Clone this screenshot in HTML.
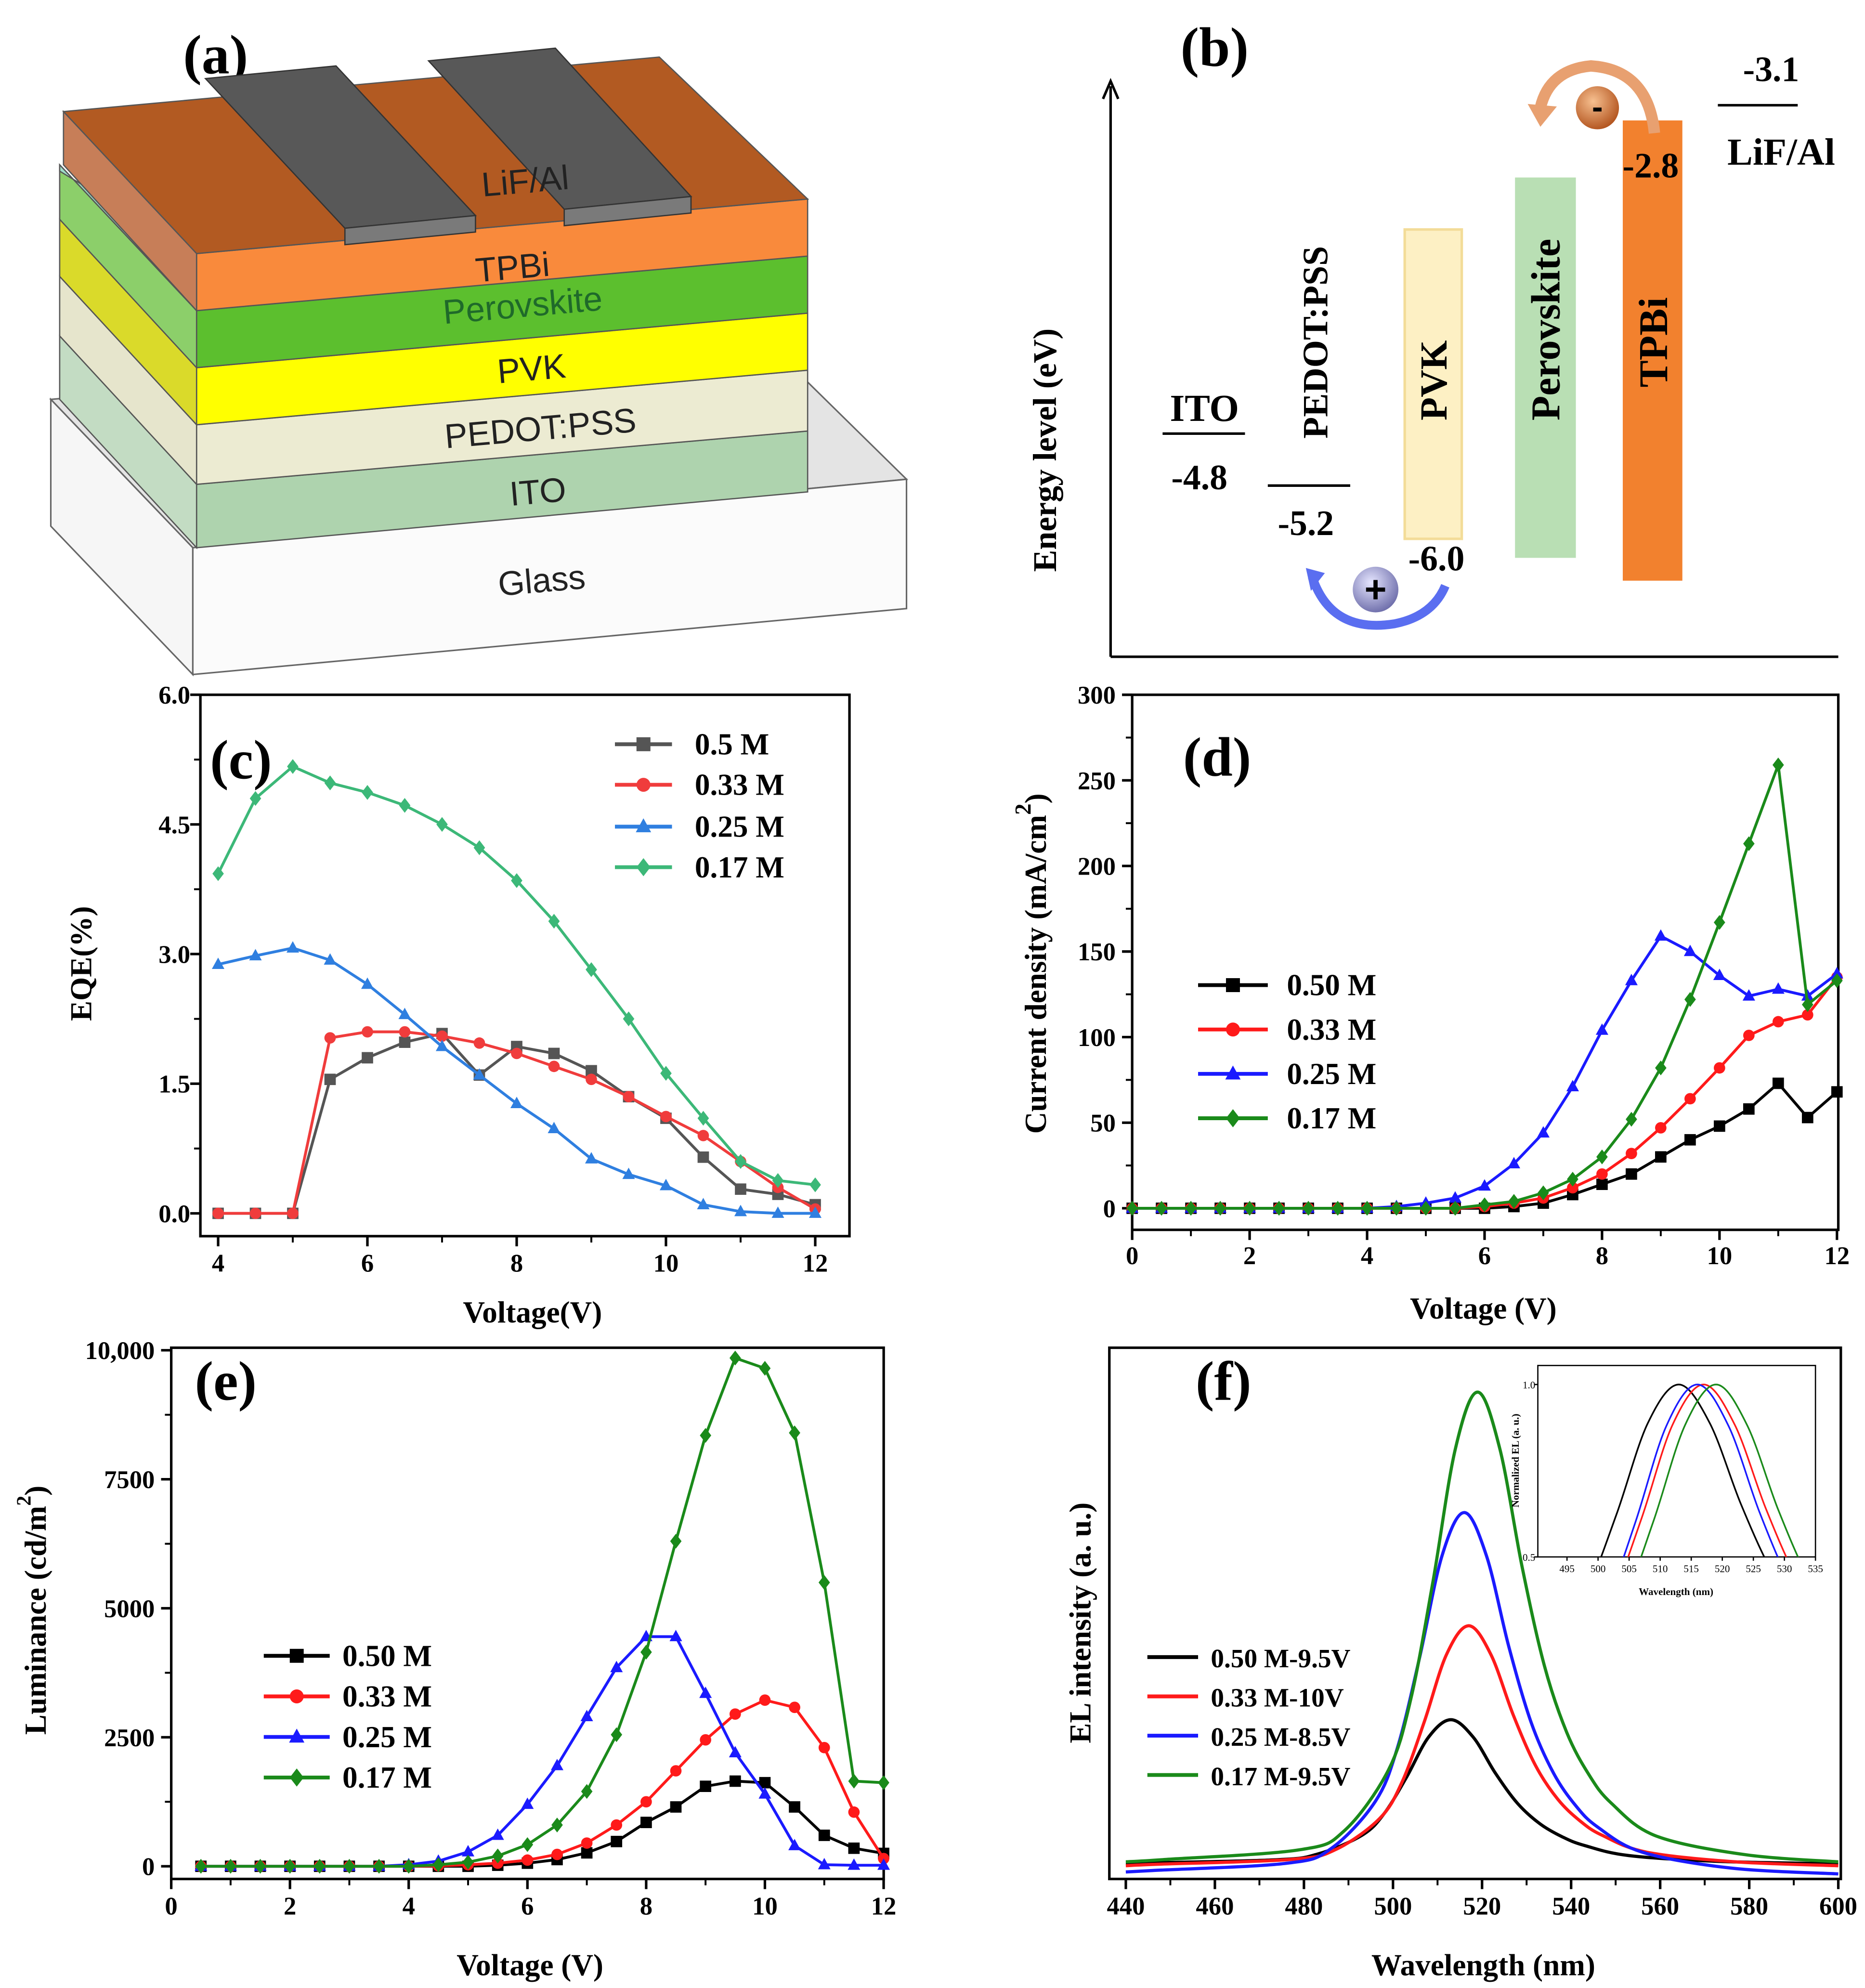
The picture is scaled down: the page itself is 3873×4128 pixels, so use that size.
<!DOCTYPE html>
<html><head><meta charset="utf-8"><title>Perovskite LED figure</title>
<style>
html,body{margin:0;padding:0;background:#fff;}
svg{display:block;font-family:"Liberation Serif",serif;}
.sans{font-family:"Liberation Sans",sans-serif;}
.b{font-weight:bold;}
</style></head>
<body>
<svg id="chart" xmlns="http://www.w3.org/2000/svg" width="3873" height="4128" viewBox="0 0 1471 1568">
<rect x="0" y="0" width="1471" height="1568" fill="#fff"/>
<!-- ===== Panel (a) device structure ===== -->
<g>
  <text x="170" y="58" font-size="44" class="b" text-anchor="middle">(a)</text>
  <!-- glass box -->
  <polygon points="40,315 600,265 715,378 152,432" fill="#e4e4e4" stroke="#666" stroke-width="1.2"/>
  <polygon points="152,432 715,378 715,480 152,532" fill="#fbfbfb" stroke="#666" stroke-width="1.2"/>
  <polygon points="40,315 152,432 152,532 40,415" fill="#f6f6f6" stroke="#666" stroke-width="1.2"/>
  <!-- ITO -->
  <polygon points="155,382 637,340 637,388 155,432" fill="#aed3ae" stroke="#555" stroke-width="1"/>
  <polygon points="47,265 155,382 155,432 47,315" fill="#c3dcc3" stroke="#555" stroke-width="1"/>
  <!-- PEDOT -->
  <polygon points="155,335 637,292 637,340 155,382" fill="#ecebd2" stroke="#555" stroke-width="1"/>
  <polygon points="47,218 155,335 155,382 47,265" fill="#e6e5cc" stroke="#555" stroke-width="1"/>
  <!-- PVK -->
  <polygon points="155,290 637,247 637,292 155,335" fill="#ffff00" stroke="#555" stroke-width="1"/>
  <polygon points="47,173 155,290 155,335 47,218" fill="#dada2a" stroke="#555" stroke-width="1"/>
  <!-- Perovskite -->
  <polygon points="155,245 637,202 637,247 155,290" fill="#5cbf2e" stroke="#555" stroke-width="1"/>
  <polygon points="47,130 155,245 155,290 47,173" fill="#8ccf6a" stroke="#555" stroke-width="1"/>
  <!-- TPBi -->
  <polygon points="155,200 637,157 637,202 155,245" fill="#f98a3c" stroke="#555" stroke-width="1"/>
  <polygon points="47,135 155,200 155,245 47,130" fill="#9edcc8" stroke="#555" stroke-width="1"/>
  <!-- LiF/Al top -->
  <polygon points="50,88 520,45 637,157 155,200" fill="#b25a22" stroke="#555" stroke-width="1"/>
  <polygon points="50,88 155,200 155,245 50,130" fill="#c77e58" stroke="#555" stroke-width="1"/>
  <!-- electrodes -->
  <polygon points="162,62 265,52 375,170 272,180" fill="#585858" stroke="#333" stroke-width="1"/>
  <polygon points="272,180 375,170 375,183 272,193" fill="#7a7a7a" stroke="#333" stroke-width="1"/>
  <polygon points="338,48 438,38 545,155 445,165" fill="#585858" stroke="#333" stroke-width="1"/>
  <polygon points="445,165 545,155 545,168 445,178" fill="#7a7a7a" stroke="#333" stroke-width="1"/>
  <g class="sans" font-size="27" text-anchor="middle">
    <text x="415" y="152" transform="rotate(-5 415 152)" fill="#222">LiF/Al</text>
    <text x="405" y="220" transform="rotate(-5 405 220)" fill="#222">TPBi</text>
    <text x="413" y="250" transform="rotate(-5 413 250)" fill="#1f6a2a">Perovskite</text>
    <text x="420" y="300" transform="rotate(-5 420 300)" fill="#222">PVK</text>
    <text x="427" y="347" transform="rotate(-5 427 347)" fill="#222">PEDOT:PSS</text>
    <text x="425" y="397" transform="rotate(-5 425 397)" fill="#222">ITO</text>
    <text x="428" y="467" transform="rotate(-5 428 467)" fill="#222">Glass</text>
  </g>
</g>
<!-- ===== Panel (b) energy levels ===== -->
<g class="b">
  <defs>
    <radialGradient id="hole" cx="0.4" cy="0.35" r="0.7"><stop offset="0" stop-color="#e6e6ff"/><stop offset="1" stop-color="#6a6aa8"/></radialGradient>
    <radialGradient id="elec" cx="0.4" cy="0.35" r="0.7"><stop offset="0" stop-color="#f7c090"/><stop offset="1" stop-color="#b0501a"/></radialGradient>
  </defs>
  <text x="958" y="52" font-size="44" text-anchor="middle">(b)</text>
  <line x1="876" y1="518" x2="876" y2="68" stroke="#000" stroke-width="2"/>
  <polyline points="870,78 876,64 882,78" fill="none" stroke="#000" stroke-width="2"/>
  <line x1="876" y1="518" x2="1450" y2="518" stroke="#000" stroke-width="2"/>
  <text x="0" y="0" font-size="26" text-anchor="middle" transform="translate(833 355) rotate(-90)">Energy level (eV)</text>
  <line x1="917" y1="342" x2="982" y2="342" stroke="#000" stroke-width="2"/>
  <text x="950" y="332" font-size="30" text-anchor="middle">ITO</text>
  <text x="946" y="386" font-size="28" text-anchor="middle">-4.8</text>
  <line x1="1000" y1="383" x2="1065" y2="383" stroke="#000" stroke-width="2"/>
  <text x="0" y="0" font-size="28" text-anchor="middle" transform="translate(1047 270) rotate(-90)">PEDOT:PSS</text>
  <text x="1030" y="422" font-size="28" text-anchor="middle">-5.2</text>
  <rect x="1108" y="181" width="45" height="244" fill="#fdf0c4" stroke="#f3dc98" stroke-width="2"/>
  <text x="0" y="0" font-size="30" text-anchor="middle" transform="translate(1141 300) rotate(-90)">PVK</text>
  <rect x="1195" y="140" width="48" height="300" fill="#b9dfb4"/>
  <text x="0" y="0" font-size="32" text-anchor="middle" transform="translate(1230 260) rotate(-90)">Perovskite</text>
  <rect x="1280" y="95" width="47" height="363" fill="#f2812e"/>
  <text x="0" y="0" font-size="32" text-anchor="middle" transform="translate(1315 270) rotate(-90)">TPBi</text>
  <text x="1302" y="140" font-size="28" text-anchor="middle">-2.8</text>
  <line x1="1355" y1="83" x2="1418" y2="83" stroke="#000" stroke-width="2"/>
  <text x="1397" y="64" font-size="28" text-anchor="middle">-3.1</text>
  <text x="1405" y="130" font-size="30" text-anchor="middle">LiF/Al</text>
  <path d="M1035,455 Q1050,500 1100,492 Q1130,486 1140,462" fill="none" stroke="#5a6ef0" stroke-width="7"/>
  <polygon points="1030,448 1045,452 1034,466" fill="#5a6ef0"/>
  <circle cx="1085" cy="465" r="18" fill="url(#hole)"/>
  <text x="1085" y="475" font-size="30" text-anchor="middle" class="sans">+</text>
  <text x="1133" y="450" font-size="28" text-anchor="middle">-6.0</text>
  <path d="M1305,105 Q1300,55 1255,52 Q1222,55 1215,85" fill="none" stroke="#e8a070" stroke-width="9"/>
  <polygon points="1205,82 1228,84 1215,100" fill="#e8a070"/>
  <circle cx="1260" cy="85" r="17" fill="url(#elec)"/>
  <text x="1260" y="93" font-size="26" text-anchor="middle" class="sans">-</text>
</g>
<g id="plots"></g>
</svg>
<script>
// ---------- data ----------
const eqeVolt = [4,4.5,5,5.5,6,6.5,7,7.5,8,8.5,9,9.5,10,10.5,11,11.5,12];
const eqe050 = [0,0,0,1.55,1.8,1.98,2.08,1.6,1.93,1.85,1.65,1.35,1.1,0.65,0.28,0.22,0.1];
const eqe033 = [0,0,0,2.03,2.1,2.1,2.05,1.97,1.85,1.7,1.55,1.35,1.12,0.9,0.6,0.3,0.05];
const eqe025 = [2.88,2.98,3.07,2.93,2.65,2.3,1.93,1.6,1.27,0.98,0.63,0.45,0.32,0.1,0.02,0,0];
const eqe017 = [3.93,4.8,5.17,4.98,4.87,4.72,4.5,4.23,3.85,3.38,2.82,2.25,1.62,1.1,0.6,0.38,0.33];
const eqeYTicks = [0,1.5,3.0,4.5,6.0];
const eqeYLabels = ['0.0','1.5','3.0','4.5','6.0'];
const eqeXTicks = [4,6,8,10,12];

const jVolt = [0,0.5,1,1.5,2,2.5,3,3.5,4,4.5,5,5.5,6,6.5,7,7.5,8,8.5,9,9.5,10,10.5,11,11.5,12];
const j050 = [0,0,0,0,0,0,0,0,0,0,0,0,0,1,3,8,14,20,30,40,48,58,73,53,68];
const j033 = [0,0,0,0,0,0,0,0,0,0,0,0,1,3,6,12,20,32,47,64,82,101,109,113,135];
const j025 = [0,0,0,0,0,0,0,0,0,1,3,6,13,26,44,71,104,133,159,150,136,124,128,124,137];
const j017 = [0,0,0,0,0,0,0,0,0,0,0,0,2,4,9,17,30,52,82,122,167,213,259,119,133];
const jYTicks = [0,50,100,150,200,250,300];
const jXTicks = [0,2,4,6,8,10,12];

const lVolt = [0.5,1,1.5,2,2.5,3,3.5,4,4.5,5,5.5,6,6.5,7,7.5,8,8.5,9,9.5,10,10.5,11,11.5,12];
const l050 = [0,0,0,0,0,0,0,0,0,0,20,60,130,260,480,850,1150,1550,1650,1620,1150,600,350,250];
const l033 = [0,0,0,0,0,0,0,0,10,30,60,120,230,450,800,1250,1850,2450,2950,3220,3080,2300,1050,150];
const l025 = [0,0,0,0,0,0,0,30,100,280,600,1200,1950,2900,3850,4450,4450,3350,2200,1400,400,30,20,20];
const l017 = [0,0,0,0,0,0,0,0,30,80,200,420,800,1450,2550,4150,6300,8350,9850,9650,8400,5500,1650,1620];
const lYTicks = [0,2500,5000,7500,10000];
const lYLabels = ['0','2500','5000','7500','10,000'];
const lXTicks = [0,2,4,6,8,10,12];

const elWl050 = [440,473,483,493,498,503,508,513,518,523,528,533,538,543,553,573,600];
const elI050 = [0.022,0.029,0.041,0.08,0.125,0.2,0.284,0.32,0.284,0.209,0.146,0.104,0.077,0.059,0.038,0.026,0.021];
const elWl033 = [440,447,477,487,497,502,507,512,517,522,527,532,537,542,547,557,577,600];
const elI033 = [0.017,0.02,0.03,0.05,0.115,0.19,0.315,0.455,0.515,0.455,0.33,0.225,0.155,0.11,0.08,0.045,0.025,0.017];
const elWl025 = [440,446,476,486,496,501,506,511,516,521,526,531,536,541,546,556,576,600];
const elI025 = [0.004,0.007,0.022,0.052,0.15,0.262,0.45,0.66,0.75,0.66,0.472,0.315,0.21,0.142,0.097,0.045,0.012,0];
const elWl017 = [440,449,479,489,499,504,509,514,519,524,529,534,539,544,549,559,579,600];
const elI017 = [0.025,0.03,0.05,0.089,0.216,0.363,0.608,0.882,1.0,0.882,0.637,0.432,0.294,0.206,0.147,0.079,0.04,0.025];
const elXTicks = [440,460,480,500,520,540,560,580,600];
const insetXTicks = [495,500,505,510,515,520,525,530,535];
const insetYTicks = [0.5,1.0];

// ---------- helpers ----------
const NS = 'http://www.w3.org/2000/svg';
const root = document.getElementById('plots');
function mk(tag, attrs, parent) {
  const e = document.createElementNS(NS, tag);
  for (const k in attrs) e.setAttribute(k, attrs[k]);
  (parent || root).appendChild(e);
  return e;
}
function txt(parent, x, y, s, size, anchor, extra) {
  const t = mk('text', Object.assign({x: x, y: y, 'font-size': size, 'text-anchor': anchor || 'middle', 'font-weight': 'bold'}, extra || {}), parent);
  t.textContent = s;
  return t;
}
function marker(parent, shape, x, y, color, s) {
  let m;
  if (shape === 'square') m = mk('rect', {x: x - s, y: y - s, width: 2 * s, height: 2 * s, fill: color}, parent);
  else if (shape === 'circle') m = mk('circle', {cx: x, cy: y, r: s, fill: color}, parent);
  else if (shape === 'triangle') m = mk('polygon', {points: `${x},${y - s * 1.2} ${x - s * 1.1},${y + s * 0.8} ${x + s * 1.1},${y + s * 0.8}`, fill: color}, parent);
  else m = mk('polygon', {points: `${x},${y - s * 1.3} ${x + s},${y} ${x},${y + s * 1.3} ${x - s},${y}`, fill: color}, parent);
  return m;
}
function frame(g, L, T, R, B) {
  const f = mk('rect', {x: L, y: T, width: R - L, height: B - T, fill: 'none', stroke: '#000', 'stroke-width': 2}, g);
  
  
}
function xAxis(g, xs, ticks, labels, B, minor, labelY) {
  ticks.forEach((v, i) => {
    const tk = mk('line', {x1: xs(v), y1: B, x2: xs(v), y2: B + 8, stroke: '#000', 'stroke-width': 2}, g);
    
    
    const lb = txt(g, xs(v), labelY, labels ? labels[i] : String(v), 20);
    
    
  });
  (minor || []).forEach(v => {
    const mt = mk('line', {x1: xs(v), y1: B, x2: xs(v), y2: B + 5, stroke: '#000', 'stroke-width': 1.5}, g);
    
    
  });
}
function yAxis(g, ys, ticks, labels, L, minor, labelX) {
  ticks.forEach((v, i) => {
    const tk = mk('line', {x1: L - 8, y1: ys(v), x2: L, y2: ys(v), stroke: '#000', 'stroke-width': 2}, g);
    
    
    const lb = txt(g, labelX, ys(v) + 7, labels ? labels[i] : String(v), 20, 'end');
    
    
  });
  (minor || []).forEach(v => {
    const mt = mk('line', {x1: L - 5, y1: ys(v), x2: L, y2: ys(v), stroke: '#000', 'stroke-width': 1.5}, g);
    
    
  });
}
function series(g, xs, ys, X, Y, color, shape, ms, name) {
  const sg = mk('g', {}, g);
  
  
  const ln = mk('polyline', {points: X.map((x, i) => xs(x) + ',' + ys(Y[i])).join(' '), fill: 'none', stroke: color, 'stroke-width': 2.2}, sg);
  
  
  X.forEach((x, i) => {
    const m = marker(sg, shape, xs(x), ys(Y[i]), color, ms);
    
    
  });
}
function legend(g, x0, x1, tx, yList, items, size) {
  items.forEach((it, i) => {
    const y = yList[i];
    const l = mk('line', {x1: x0, y1: y, x2: x1, y2: y, stroke: it.c, 'stroke-width': 3}, g);
    
    
    if (it.s) {
      const m = marker(g, it.s, (x0 + x1) / 2, y, it.c, 5.5);
      
      
    }
    const t = txt(g, tx, y + 8, it.t, size, 'start');
    
    
  });
}
function smoothPath(pts) {
  let d = 'M' + pts[0][0] + ',' + pts[0][1];
  for (let i = 0; i < pts.length - 1; i++) {
    const p0 = pts[Math.max(0, i - 1)], p1 = pts[i], p2 = pts[i + 1], p3 = pts[Math.min(pts.length - 1, i + 2)];
    const c1 = [p1[0] + (p2[0] - p0[0]) / 6, p1[1] + (p2[1] - p0[1]) / 6];
    const c2 = [p2[0] - (p3[0] - p1[0]) / 6, p2[1] - (p3[1] - p1[1]) / 6];
    d += ` C${c1[0]},${c1[1]} ${c2[0]},${c2[1]} ${p2[0]},${p2[1]}`;
  }
  return d;
}

// ---------- panel (c) EQE ----------
{
  const g = mk('g', {});
  
  
  const xs = v => 172 + (v - 4) * 58.875;
  const ys = v => 957 - v * 68.17;
  frame(g, 158, 548, 670, 975);
  xAxis(g, xs, eqeXTicks, null, 975, [5, 7, 9, 11], 1003);
  yAxis(g, ys, eqeYTicks, eqeYLabels, 158, [0.75, 2.25, 3.75, 5.25], 150);
  series(g, xs, ys, eqeVolt, eqe050, '#555555', 'square', 4.5, 'eqe-series-050');
  series(g, xs, ys, eqeVolt, eqe033, '#f03c3c', 'circle', 4.5, 'eqe-series-033');
  series(g, xs, ys, eqeVolt, eqe025, '#2f7fe0', 'triangle', 4.5, 'eqe-series-025');
  series(g, xs, ys, eqeVolt, eqe017, '#3cb878', 'diamond', 4.5, 'eqe-series-017');
  legend(g, 485, 530, 548, [587, 619, 652, 684], [
    {c: '#555555', s: 'square', t: '0.5 M'}, {c: '#f03c3c', s: 'circle', t: '0.33 M'},
    {c: '#2f7fe0', s: 'triangle', t: '0.25 M'}, {c: '#3cb878', s: 'diamond', t: '0.17 M'}], 24);
  const pl = txt(g, 190, 614, '(c)', 44);
  
  
  const xt = txt(g, 420, 1043, 'Voltage(V)', 24);
  
  
  const yt = txt(g, 0, 0, 'EQE(%)', 24, 'middle', {transform: 'translate(72 760) rotate(-90)'});
  
  
}
// ---------- panel (d) current density ----------
{
  const g = mk('g', {});
  
  
  const xs = v => 893 + v * 46.33;
  const ys = v => 953 - v * 1.35;
  frame(g, 893, 548, 1450, 970);
  xAxis(g, xs, jXTicks, null, 970, [1, 3, 5, 7, 9, 11], 997);
  yAxis(g, ys, jYTicks, null, 893, [25, 75, 125, 175, 225, 275], 880);
  series(g, xs, ys, jVolt, j050, '#000000', 'square', 4.5, 'current-series-050');
  series(g, xs, ys, jVolt, j033, '#ff1a1a', 'circle', 4.5, 'current-series-033');
  series(g, xs, ys, jVolt, j025, '#1a1aff', 'triangle', 4.5, 'current-series-025');
  series(g, xs, ys, jVolt, j017, '#1a8a1a', 'diamond', 4.5, 'current-series-017');
  legend(g, 945, 1000, 1015, [777, 812, 847, 882], [
    {c: '#000000', s: 'square', t: '0.50 M'}, {c: '#ff1a1a', s: 'circle', t: '0.33 M'},
    {c: '#1a1aff', s: 'triangle', t: '0.25 M'}, {c: '#1a8a1a', s: 'diamond', t: '0.17 M'}], 24);
  const pl = txt(g, 960, 612, '(d)', 44);
  
  
  const xt = txt(g, 1170, 1040, 'Voltage (V)', 24);
  
  
  const yt = txt(g, 0, 0, 'Current density (mA/cm', 24, 'middle', {transform: 'translate(825 760) rotate(-90)'});
  const sup = mk('tspan', {dy: -12, 'font-size': 18}, yt);
  sup.textContent = '2';
  const cl = mk('tspan', {dy: 12}, yt);
  cl.textContent = ')';
  
  
}
// ---------- panel (e) luminance ----------
{
  const g = mk('g', {});
  
  
  const xs = v => 135 + v * 46.83;
  const ys = v => 1472 - v * 0.0407;
  frame(g, 135, 1063, 697, 1482);
  xAxis(g, xs, lXTicks, null, 1482, [1, 3, 5, 7, 9, 11], 1510);
  yAxis(g, ys, lYTicks, lYLabels, 135, [1250, 3750, 6250, 8750], 122);
  series(g, xs, ys, lVolt, l050, '#000000', 'square', 4.5, 'luminance-series-050');
  series(g, xs, ys, lVolt, l033, '#ff1a1a', 'circle', 4.5, 'luminance-series-033');
  series(g, xs, ys, lVolt, l025, '#1a1aff', 'triangle', 4.5, 'luminance-series-025');
  series(g, xs, ys, lVolt, l017, '#1a8a1a', 'diamond', 4.5, 'luminance-series-017');
  legend(g, 208, 260, 270, [1306, 1338, 1370, 1402], [
    {c: '#000000', s: 'square', t: '0.50 M'}, {c: '#ff1a1a', s: 'circle', t: '0.33 M'},
    {c: '#1a1aff', s: 'triangle', t: '0.25 M'}, {c: '#1a8a1a', s: 'diamond', t: '0.17 M'}], 24);
  const pl = txt(g, 178, 1104, '(e)', 44);
  
  
  const xt = txt(g, 418, 1558, 'Voltage (V)', 24);
  
  
  const yt = txt(g, 0, 0, 'Luminance (cd/m', 24, 'middle', {transform: 'translate(36 1270) rotate(-90)'});
  const sup = mk('tspan', {dy: -12, 'font-size': 16}, yt);
  sup.textContent = '2';
  const cl = mk('tspan', {dy: 12}, yt);
  cl.textContent = ')';
  
  
}
// ---------- panel (f) EL spectra ----------
{
  const g = mk('g', {});
  
  
  const xs = v => 888 + (v - 440) * 3.5125;
  const ys = v => 1478 - v * 380;
  frame(g, 875, 1063, 1452, 1482);
  xAxis(g, xs, elXTicks, null, 1482, [450, 470, 490, 510, 530, 550, 570, 590], 1510);
  const sets = [[elWl050, elI050, '#000000', 'el-series-050'], [elWl033, elI033, '#ff1a1a', 'el-series-033'],
                [elWl025, elI025, '#1a1aff', 'el-series-025'], [elWl017, elI017, '#1a8a1a', 'el-series-017']];
  sets.forEach(s => {
    const p = mk('path', {d: smoothPath(s[0].map((w, i) => [xs(w), ys(s[1][i])])), fill: 'none', stroke: s[2], 'stroke-width': 2.5}, g);
    
    
  });
  legend(g, 905, 945, 955, [1307, 1338, 1369, 1400], [
    {c: '#000000', t: '0.50 M-9.5V'}, {c: '#ff1a1a', t: '0.33 M-10V'},
    {c: '#1a1aff', t: '0.25 M-8.5V'}, {c: '#1a8a1a', t: '0.17 M-9.5V'}], 21);
  const pl = txt(g, 965, 1104, '(f)', 44);
  
  
  const xt = txt(g, 1170, 1558, 'Wavelength (nm)', 24);
  
  
  const yt = txt(g, 0, 0, 'EL intensity (a. u.)', 24, 'middle', {transform: 'translate(860 1280) rotate(-90)'});
  
  

  // inset
  const ig = mk('g', {}, g);
  
  
  const iL = 1213, iR = 1432, iT = 1077, iB = 1228;
  const ixs = v => 1236 + (v - 495) * 4.9;
  const iys = v => 1228 - (v - 0.5) * 272;
  const cp = mk('clipPath', {id: 'insetClip'}, ig);
  mk('rect', {x: iL, y: iT, width: iR - iL, height: iB - iT}, cp);
  mk('rect', {x: iL, y: iT, width: iR - iL, height: iB - iT, fill: '#fff', stroke: '#000', 'stroke-width': 1}, ig);
  const cg = mk('g', {'clip-path': 'url(#insetClip)'}, ig);
  sets.forEach(s => {
    const mx = Math.max.apply(null, s[1]);
    const p = mk('path', {d: smoothPath(s[0].map((w, i) => [ixs(w), iys(s[1][i] / mx)])), fill: 'none', stroke: s[2], 'stroke-width': 1.3}, cg);
    
    
  });
  insetXTicks.forEach(v => {
    const t = mk('line', {x1: ixs(v), y1: iB, x2: ixs(v), y2: iB + 3, stroke: '#000', 'stroke-width': 1}, ig);
    
    
    const l = txt(ig, ixs(v), iB + 12, String(v), 8, 'middle', {'font-weight': 'normal'});
    
    
  });
  insetYTicks.forEach(v => {
    const t = mk('line', {x1: iL - 3, y1: iys(v), x2: iL, y2: iys(v), stroke: '#000', 'stroke-width': 1}, ig);
    
    
    const l = txt(ig, iL - 2, iys(v) + 3, v.toFixed(1), 8, 'end', {'font-weight': 'normal'});
    
    
  });
  const ixt = txt(ig, 1322, 1258, 'Wavelength (nm)', 8);
  
  
  const iyt = txt(ig, 0, 0, 'Normalized EL (a. u.)', 8, 'middle', {transform: 'translate(1198 1152) rotate(-90)'});
  
  
}
</script>
</body></html>
